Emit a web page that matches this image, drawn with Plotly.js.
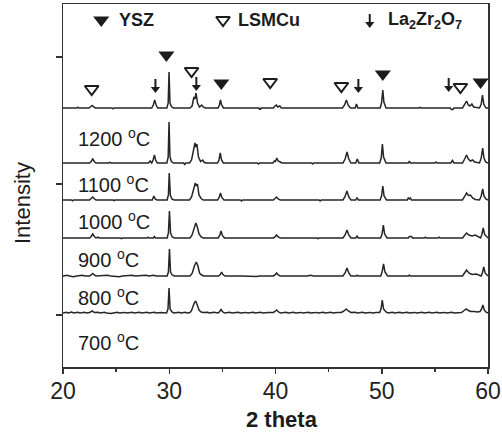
<!DOCTYPE html>
<html>
<head>
<meta charset="utf-8">
<script src="https://cdn.plot.ly/plotly-3.0.1.min.js"></script>
<style>
  html, body { margin: 0; padding: 0; background: #fff; }
  #chart { width: 502px; height: 436px; }
</style>
</head>
<body>
<div id="chart"></div>
<script>
// XRD patterns of the LSMCu / YSZ couple after firing at 700-1200 °C.
// Each pattern: [2theta (deg), intensity above its own baseline (a.u.)]
const temps = ['700', '800', '900', '1000', '1100', '1200'];
// vertical stacking offsets of the patterns (a.u.)
const offsets = [54, 91, 129, 167, 204, 259];

const p700 = [
  [20,0],[20.3,0.8],[20.5,0],[20.8,1],[21.0,0],[21.4,0.8],[21.6,0],[22.0,0.7],[22.2,0],[22.5,0.5],[22.75,2],[22.95,0.5],[23.3,0.7],[23.5,0],
  [23.9,0.8],[24.1,0],[24.5,-0.6],[24.7,0],[25.1,0.8],[25.3,0],[25.8,0.6],[26.0,0],[26.5,0.8],[26.7,0],[27.2,0.7],[27.4,0],[27.9,0.8],[28.1,0],[28.6,0.8],[28.8,0],[29.2,0.5],
  [29.75,0],[29.88,4],[29.98,25],[30.08,4],[30.25,1],[30.45,0],[30.9,0.7],[31.1,0],[31.5,0.7],[31.7,0],
  [31.95,0.5],[32.1,2.5],[32.35,10],[32.48,12],[32.6,9],[32.8,3],[33.0,1],[33.2,0.5],[33.6,0.8],[33.8,0],[34.2,0.7],[34.4,0],
  [34.6,0],[34.75,1.5],[34.88,4],[35.0,1.5],[35.2,0],[35.7,0.7],[35.9,0],[36.5,0.8],[36.7,0],[37.2,0.6],[37.4,0],[37.9,0.8],[38.1,0],[38.6,0.7],[38.8,0],[39.3,0.6],
  [39.8,0.5],[39.95,1.5],[40.1,3],[40.25,1.5],[40.45,0],[41.0,0.7],[41.2,0],[41.7,0.8],[41.9,0],[42.4,0.6],[42.6,0],[43.1,0.8],[43.3,0],[43.8,0.6],[44.0,0],[44.5,0.8],[44.7,0],[45.2,0.7],[45.4,0],[45.8,0.6],
  [46.2,0.5],[46.45,2],[46.65,4],[46.85,2],[47.1,0.5],[47.5,0.7],[47.7,0],[48.2,0.8],[48.4,0],[48.9,0.6],[49.1,0],[49.5,0.6],
  [49.8,0.5],[49.93,4],[50.05,13],[50.17,4],[50.4,1],[50.6,0],[51.0,0.8],[51.2,0],[51.7,0.7],[51.9,0],[52.4,0.8],[52.6,0],[53.1,0.6],[53.3,0],[53.8,0.8],[54.0,0],[54.5,0.7],[54.7,0],[55.2,0.8],[55.4,0],[55.9,0.6],[56.1,0],[56.6,0.8],[56.8,0],[57.2,0.6],
  [57.5,0.5],[57.75,2.5],[57.95,4],[58.15,2.5],[58.4,1.5],[58.7,1.5],[59.0,1],[59.25,1.5],[59.4,4],[59.52,8],[59.65,3],[59.8,1],[60,0]
];

const p800 = [
  [20,0],[20.4,0.8],[20.6,0],[21.0,-0.8],[21.3,0],[21.8,0.8],[22.1,0],[22.5,0],[22.65,1],[22.8,2.5],[22.95,1],[23.1,0],
  [24.2,0.7],[24.5,0],[25.3,-0.7],[25.6,0],[26.5,0.7],[26.8,0],[27.8,0.8],[28.1,0],[28.5,0.8],[28.8,0],
  [29.8,0],[29.92,4],[30.02,27],[30.12,4],[30.28,1],[30.5,0],
  [31.95,0],[32.15,2.5],[32.4,11],[32.55,14],[32.7,10],[32.85,3],[33.05,1],[33.25,0],
  [34.65,0],[34.8,1.5],[34.93,4],[35.05,1.5],[35.25,0],
  [36.5,0.6],[36.8,0],[38.2,-0.6],[38.5,0],
  [39.8,0],[39.95,1],[40.1,3],[40.25,1],[40.45,0],
  [43.0,0],[43.3,0.8],[43.6,0],
  [46.35,0],[46.55,3],[46.73,8],[46.9,3],[47.1,0],[47.6,0],[47.7,0.8],[47.8,0],
  [49.9,0],[50.03,4],[50.17,12],[50.3,4],[50.55,0],
  [52.5,0],[52.6,1],[52.7,0],
  [57.6,0],[57.8,3],[57.98,6],[58.2,3],[58.5,1.5],[58.9,2],[59.2,1],[59.35,0],[59.47,3],[59.6,9],[59.73,3],[59.9,0.5],[60,0]
];

const p900 = [
  [20,0],[21.5,0],[21.6,0.6],[21.7,0],[22.5,0],[22.65,1.5],[22.8,4],[22.95,1.5],[23.1,0],[23.3,0.8],[23.4,0],
  [25.4,0],[25.5,-0.6],[25.6,0],
  [27.9,0],[28.0,0.8],[28.1,0],[28.5,0],[28.6,1.5],[28.7,0],
  [29.8,0],[29.92,5],[30.02,27],[30.12,5],[30.28,1],[30.5,0],
  [31.95,0],[32.15,3],[32.38,12],[32.5,15],[32.62,12],[32.8,4],[33.0,1],[33.2,0],
  [34.6,0],[34.75,2.5],[34.87,7],[35.0,2.5],[35.2,0],
  [39.8,0],[39.95,1],[40.1,3],[40.25,1],[40.45,0],
  [43.9,0],[44.0,-0.7],[44.1,0],
  [46.35,0],[46.55,3],[46.73,8],[46.9,3],[47.1,0],[47.55,0],[47.68,2],[47.8,0],
  [49.9,0],[50.03,4],[50.15,13],[50.27,4],[50.5,0],
  [52.5,0],[52.6,1.5],[52.8,1.5],[52.9,0],
  [54.0,0],[54.1,0.8],[54.2,0],[55.3,0],[55.4,0.8],[55.5,0],
  [57.6,0],[57.8,3],[57.98,5],[58.2,3],[58.5,2],[58.8,3],[59.1,1],[59.3,0],[59.42,3.5],[59.55,10],[59.68,3.5],[59.85,1],[60,0]
];

const p1000 = [
  [20,0],[20.8,0],[20.9,-0.8],[21,0],[22.5,0],[22.65,1.2],[22.8,3],[22.95,1.2],[23.1,0],
  [24.7,0],[24.8,-0.7],[24.9,0],[26.9,0],[27,-0.7],[27.1,0],
  [28.4,0],[28.55,4],[28.68,1],[28.85,0],
  [29.8,0],[29.92,5],[30.0,27],[30.1,5],[30.25,1],[30.45,0],
  [31.9,0],[32.1,3],[32.32,14],[32.45,17],[32.55,14],[32.65,16],[32.8,5],[33.0,1.5],[33.2,0],
  [34.55,0],[34.7,2.5],[34.82,7],[34.95,2.5],[35.15,0],
  [36.7,0],[36.8,-1],[36.9,0],
  [39.8,0],[39.95,1.5],[40.1,3],[40.25,1],[40.45,0],
  [44.1,0],[44.2,-1],[44.3,0],
  [46.35,0],[46.55,3.5],[46.72,9],[46.9,3],[47.1,0],[47.55,0],[47.68,2.5],[47.8,0],
  [49.85,0],[49.98,4],[50.1,14],[50.22,4],[50.45,0],
  [52.4,0],[52.5,2],[52.6,1],[52.7,2],[52.8,0],
  [54.5,0],[54.6,-0.7],[54.7,0],
  [57.6,0],[57.8,3.5],[57.98,7],[58.15,4.5],[58.35,5],[58.55,2],[58.8,0.5],[59.2,0],[59.36,4],[59.5,11],[59.62,4],[59.8,1],[59.9,0],[60,0]
];

const p1100 = [
  [20,0],[21,0],[21.1,0.7],[21.2,0],[22.5,0],[22.65,1.5],[22.8,4],[22.95,1.5],[23.1,0],
  [24.3,0],[24.4,0.6],[24.5,0],[25.9,0],[26,0.7],[26.1,0],
  [28.05,0],[28.2,2],[28.35,0],[28.48,3],[28.6,8],[28.72,3],[28.88,0],
  [29.78,0],[29.9,6],[29.98,41],[30.07,6],[30.2,1.5],[30.4,0],
  [31.35,0],[31.45,-1.5],[31.55,0],
  [31.9,0],[32.1,3],[32.3,14],[32.42,20],[32.5,16],[32.6,19],[32.75,6],[32.95,1.5],[33.15,3],[33.3,0.5],[33.5,0],
  [34.55,0],[34.68,3],[34.8,10],[34.92,3],[35.1,0],
  [38.3,0],[38.4,-1],[38.5,0],
  [39.75,0],[39.9,2],[40.0,1.5],[40.12,5],[40.25,2],[40.45,1],[40.6,0],
  [43.4,0],[43.5,-1],[43.6,0],
  [46.35,0],[46.55,4],[46.73,11],[46.9,4],[47.1,0],[47.55,0],[47.7,4],[47.85,0],
  [49.8,0],[49.95,5],[50.06,19],[50.17,6],[50.4,0],
  [52.5,0],[52.6,2],[52.7,0],[55.0,0],[55.1,1],[55.2,0],
  [56.5,0],[56.65,2.5],[56.8,0],
  [57.6,0],[57.8,4],[57.98,8],[58.15,4],[58.35,2],[58.55,3],[58.75,1],[59.2,0],[59.36,5],[59.5,15],[59.62,5],[59.78,1],[59.9,0],[60,0]
];

const p1200 = [
  [20,0],[21.3,0],[21.4,0.8],[21.5,0],[22.45,0],[22.6,1],[22.75,2.5],[22.9,1],[23.05,0],
  [24.6,0],[24.7,-0.8],[24.8,0],[26.9,0],[27.0,0.7],[27.1,0],
  [28.35,0],[28.5,3],[28.63,8],[28.76,3],[28.92,0],
  [29.78,0],[29.9,5],[29.98,36],[30.07,5],[30.2,1.5],[30.4,0],
  [31.95,0],[32.15,2],[32.32,11],[32.42,9],[32.52,15],[32.66,5],[32.85,1],[33.05,3],[33.2,1],[33.4,0],
  [34.6,0],[34.72,3],[34.82,8],[34.93,3],[35.1,0],
  [38.45,0],[38.5,-1.2],[38.6,-1.2],[38.65,0],
  [39.8,0],[39.95,2],[40.08,3],[40.2,1],[40.4,2],[40.55,0],
  [44.8,0],[44.9,-0.6],[45,0],
  [46.3,0],[46.5,3],[46.67,8],[46.83,3],[47.05,0],[47.5,0],[47.62,4],[47.75,0],
  [49.85,0],[49.98,5],[50.1,18],[50.2,6],[50.4,0],
  [53.5,0],[53.6,0.6],[53.7,0],
  [56.45,0],[56.55,-1.5],[56.7,-1.5],[56.8,0],
  [57.6,0],[57.8,3.5],[57.98,7],[58.15,3],[58.3,2],[58.48,4],[58.65,1],[59.2,0],[59.36,4],[59.48,13],[59.6,4],[59.75,1],[59.85,0],[60,0]
];

const patterns = [p700, p800, p900, p1000, p1100, p1200];

// phase reflections marked above the 1200 °C pattern: 2theta and marker height (a.u.)
const yszPos = [29.73, 34.9, 50.1, 59.3];
const yszY = [312, 284, 293, 285];
const lsmPos = [22.7, 32.1, 39.5, 46.2, 57.4];
const lsmY = [278, 296, 285, 281, 280];
const lzoPos = [28.7, 32.55, 47.8, 56.3];
const lzoY = [275, 277, 275, 276];

const ink = '#1c1c1c';
const font = '"Liberation Sans", Arial, sans-serif';

// plot frame in pixels, used to place the free-standing labels
const frame = { l: 63, r: 488, t: 4, b: 367 };
const px = (x) => (x - frame.l) / (frame.r - frame.l);
const py = (y) => (frame.b - y) / (frame.b - frame.t);

const traces = patterns.map((p, i) => ({
  type: 'scatter',
  mode: 'lines',
  name: temps[i] + ' °C',
  x: p.map(d => d[0]),
  y: p.map(d => d[1] + offsets[i]),
  line: { color: '#262626', width: 1.5 },
  hoverinfo: 'skip',
  showlegend: false
}));

// key row at the top of the frame
const keyY = 347;
const keyYsz = 23.6, keyLsm = 35.06, keyLzo = 48.87;

traces.push({
  type: 'scatter', mode: 'markers',
  x: yszPos.concat([keyYsz]), y: yszY.concat([keyY]),
  marker: { symbol: 'triangle-down', size: 14, color: ink },
  hoverinfo: 'skip', showlegend: false
});
traces.push({
  type: 'scatter', mode: 'markers',
  x: lsmPos.concat([keyLsm]), y: lsmY.concat([keyY]),
  marker: { symbol: 'triangle-down-open', size: 12, color: ink, line: { color: ink, width: 2 } },
  hoverinfo: 'skip', showlegend: false
});

// La2Zr2O7 arrows: a short shaft with a small filled head at the tip
const arrowX = lzoPos.concat([keyLzo]);
const arrowTip = lzoY.concat([keyY - 7]);
const shaftX = [], shaftY = [];
arrowX.forEach((x, i) => {
  shaftX.push(x, x, null);
  shaftY.push(arrowTip[i] + 13, arrowTip[i] + 3, null);
});
traces.push({
  type: 'scatter', mode: 'lines', x: shaftX, y: shaftY,
  line: { color: ink, width: 2 }, hoverinfo: 'skip', showlegend: false
});
traces.push({
  type: 'scatter', mode: 'markers',
  x: arrowX, y: arrowTip.map(v => v + 3),
  marker: { symbol: 'triangle-down', size: 8, color: ink },
  hoverinfo: 'skip', showlegend: false
});

const annotations = [];

// key labels
const keyFont = { family: font, size: 18, color: ink };
[[25.05, '<b>YSZ</b>'], [36.3, '<b>LSMCu</b>'], [50.44, '<b>La<sub>2</sub>Zr<sub>2</sub>O<sub>7</sub></b>']]
  .forEach(([x, t]) => annotations.push({
    x: x, y: keyY, xref: 'x', yref: 'y', xanchor: 'left', yanchor: 'middle',
    text: t, showarrow: false, font: keyFont
  }));

// temperature labels, centred in the gap below each pattern
temps.forEach((t, i) => {
  const below = i === 0 ? 0 : offsets[i - 1];
  annotations.push({
    x: 21.2, y: (offsets[i] + below) / 2 - 1.5, xref: 'x', yref: 'y',
    xanchor: 'left', yanchor: 'middle',
    text: t + ' <sup>o</sup>C', showarrow: false,
    font: { family: font, size: 20, color: ink }
  });
});

// axis titles
annotations.push({
  x: px(22), y: py(203), xref: 'paper', yref: 'paper',
  xanchor: 'center', yanchor: 'middle', textangle: -90,
  text: 'Intensity', showarrow: false,
  font: { family: font, size: 22, color: ink }
});
annotations.push({
  x: px(282), y: py(419), xref: 'paper', yref: 'paper',
  xanchor: 'center', yanchor: 'middle',
  text: '<b>2 theta</b>', showarrow: false,
  font: { family: font, size: 22, color: ink }
});

const layout = {
  width: 502, height: 436,
  margin: { l: frame.l, r: 502 - frame.r, t: frame.t, b: 436 - frame.b },
  paper_bgcolor: '#fff', plot_bgcolor: '#fff',
  font: { family: font, color: ink },
  showlegend: false,
  xaxis: {
    range: [20, 60],
    tickvals: [20, 30, 40, 50, 60],
    ticks: 'outside', ticklen: 5, tickwidth: 1.5, tickcolor: '#333',
    minor: { tickvals: [25, 35, 45, 55], ticks: 'outside', ticklen: 3, tickwidth: 1.5, tickcolor: '#333' },
    showline: true, linecolor: '#333', linewidth: 1.5, mirror: true,
    showgrid: false, zeroline: false,
    ticklabelstandoff: -2,
    tickfont: { family: font, size: 23, color: '#222' }
  },
  yaxis: {
    range: [0, 363],
    tickvals: [52, 183, 310],
    ticks: 'outside', ticklen: 6, tickwidth: 1.5, tickcolor: '#333',
    showticklabels: false,
    showline: true, linecolor: '#333', linewidth: 1.5, mirror: true,
    showgrid: false, zeroline: false
  },
  annotations: annotations
};

Plotly.newPlot('chart', traces, layout, { staticPlot: true, displayModeBar: false });
</script>
</body>
</html>
